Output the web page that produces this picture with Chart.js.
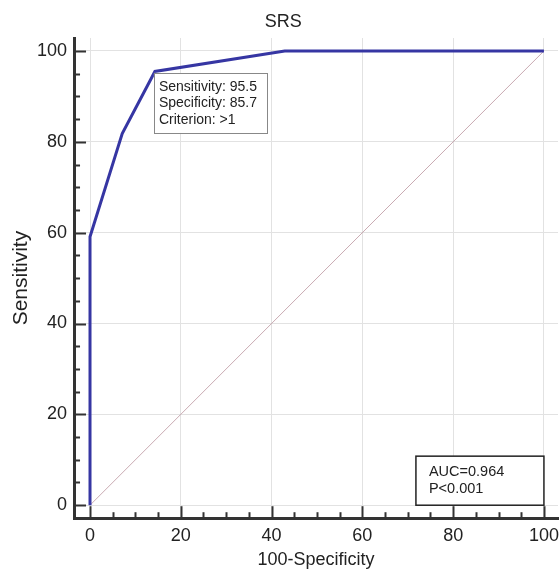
<!DOCTYPE html>
<html><head><meta charset="utf-8">
<script src="https://cdn.jsdelivr.net/npm/chart.js@4.4.1/dist/chart.umd.min.js"></script>
<style>html,body{margin:0;padding:0;background:#fff}#wrap{width:560px;height:571px}</style>
</head><body><div id="wrap"><canvas id="c"></canvas></div>
<script>
const rocFpr = [0, 0, 7.1, 14.3, 42.9, 100];
const rocSens = [0, 59.1, 81.8, 95.5, 100, 100];
const diagX = [0, 100];
const diagY = [0, 100];
const majorTicks = [0, 20, 40, 60, 80, 100];
const cutoffLines = ['Sensitivity: 95.5', 'Specificity: 85.7', 'Criterion: >1'];
const statLines = ['AUC=0.964', 'P<0.001'];
const FONT = '"Liberation Sans", Arial, Helvetica, sans-serif';
const TICK_PAD = 7;

const toPts = (xs, ys) => xs.map((x, i) => ({x: x, y: ys[i]}));

const customTicks = {
  id: 'customTicks',
  afterDraw(chart) {
    const ctx = chart.ctx, xs = chart.scales.x, ys = chart.scales.y, a = chart.chartArea;
    ctx.save();
    ctx.strokeStyle = '#333';
    ctx.lineWidth = 2;
    for (let v = 0; v <= 100; v += 5) {
      const len = v % 20 === 0 ? 12 : 6;
      const px = Math.round(xs.getPixelForValue(v)) + 0.5;
      ctx.beginPath(); ctx.moveTo(px, a.bottom); ctx.lineTo(px, a.bottom - len); ctx.stroke();
      const py = Math.round(ys.getPixelForValue(v)) + 0.5;
      ctx.beginPath(); ctx.moveTo(a.left, py); ctx.lineTo(a.left + len, py); ctx.stroke();
    }
    // cutoff box anchored at the cutoff point
    ctx.font = '14px ' + FONT;
    ctx.textBaseline = 'middle';
    let bx = xs.getPixelForValue(rocFpr[3]) - 1, by = ys.getPixelForValue(rocSens[3]) + 1.5;
    let bw = 113, bh = 60;
    ctx.fillStyle = '#fff';
    ctx.fillRect(bx, by, bw, bh);
    ctx.strokeStyle = '#888'; ctx.lineWidth = 1;
    ctx.strokeRect(Math.round(bx) + 0.5, Math.round(by) + 0.5, bw, bh);
    ctx.fillStyle = '#222';
    cutoffLines.forEach((t, i) => ctx.fillText(t, bx + 5, by + 14 + i * 16.5));
    // stats box anchored at bottom right
    const sx = xs.getPixelForValue(71.8), sy = ys.getPixelForValue(10.8);
    const sw = xs.getPixelForValue(100) - sx, sh = ys.getPixelForValue(0) - sy;
    ctx.fillStyle = '#fff';
    ctx.fillRect(sx, sy, sw, sh);
    ctx.strokeStyle = '#222'; ctx.lineWidth = 1.5;
    ctx.strokeRect(sx, sy, sw, sh);
    ctx.fillStyle = '#222';
    ctx.font = '14.5px ' + FONT;
    statLines.forEach((t, i) => ctx.fillText(t, sx + 13, sy + 16 + i * 16.5));
    ctx.restore();
  }
};

const scaleBase = (title) => ({
  type: 'linear',
  afterBuildTicks: (s) => { s.ticks = majorTicks.map(v => ({value: v})); },
  afterFit: (s) => {
    s.paddingLeft = 0; s.paddingRight = 0; s.paddingTop = 0; s.paddingBottom = 0;
    if (s.isHorizontal()) s.height -= TICK_PAD; else s.width -= TICK_PAD;
  },
  grid: { color: '#e2e2e2', lineWidth: 1, drawTicks: false, tickLength: 0 },
  border: { display: true, color: '#333', width: 3 },
  ticks: { color: '#222', font: {family: FONT, size: 18}, padding: TICK_PAD },
  title: { display: true, text: title, color: '#222', font: {family: FONT, size: 18}, padding: {top: 2.6, bottom: 0} }
});

const xScale = scaleBase('100-Specificity');
xScale.min = -3.52; xScale.max = 103.1;
const yScale = scaleBase('Sensitivity');
yScale.min = -2.86; yScale.max = 102.86;
yScale.title.font = {family: FONT, size: 21};
yScale.title.padding = {top: 0, bottom: 3.4};

new Chart(document.getElementById('c'), {
  type: 'scatter',
  data: {
    datasets: [
      { data: toPts(diagX, diagY), showLine: true, borderColor: '#c9aab2', borderWidth: 1, pointRadius: 0, order: 2 },
      { data: toPts(rocFpr, rocSens), showLine: true, borderColor: '#3636a3', borderWidth: 3, pointRadius: 0, order: 1 }
    ]
  },
  options: {
    responsive: true, maintainAspectRatio: false, animation: false,
    layout: { autoPadding: false, padding: {left: 8.4, right: 2, top: 0, bottom: 0} },
    plugins: {
      legend: { display: false }, tooltip: { enabled: false },
      title: { display: true, text: 'SRS', color: '#222', font: {family: FONT, size: 18, weight: 'normal'}, padding: {top: 11, bottom: 5.4} }
    },
    scales: { x: xScale, y: yScale }
  },
  plugins: [customTicks]
});
</script>
</body></html>
